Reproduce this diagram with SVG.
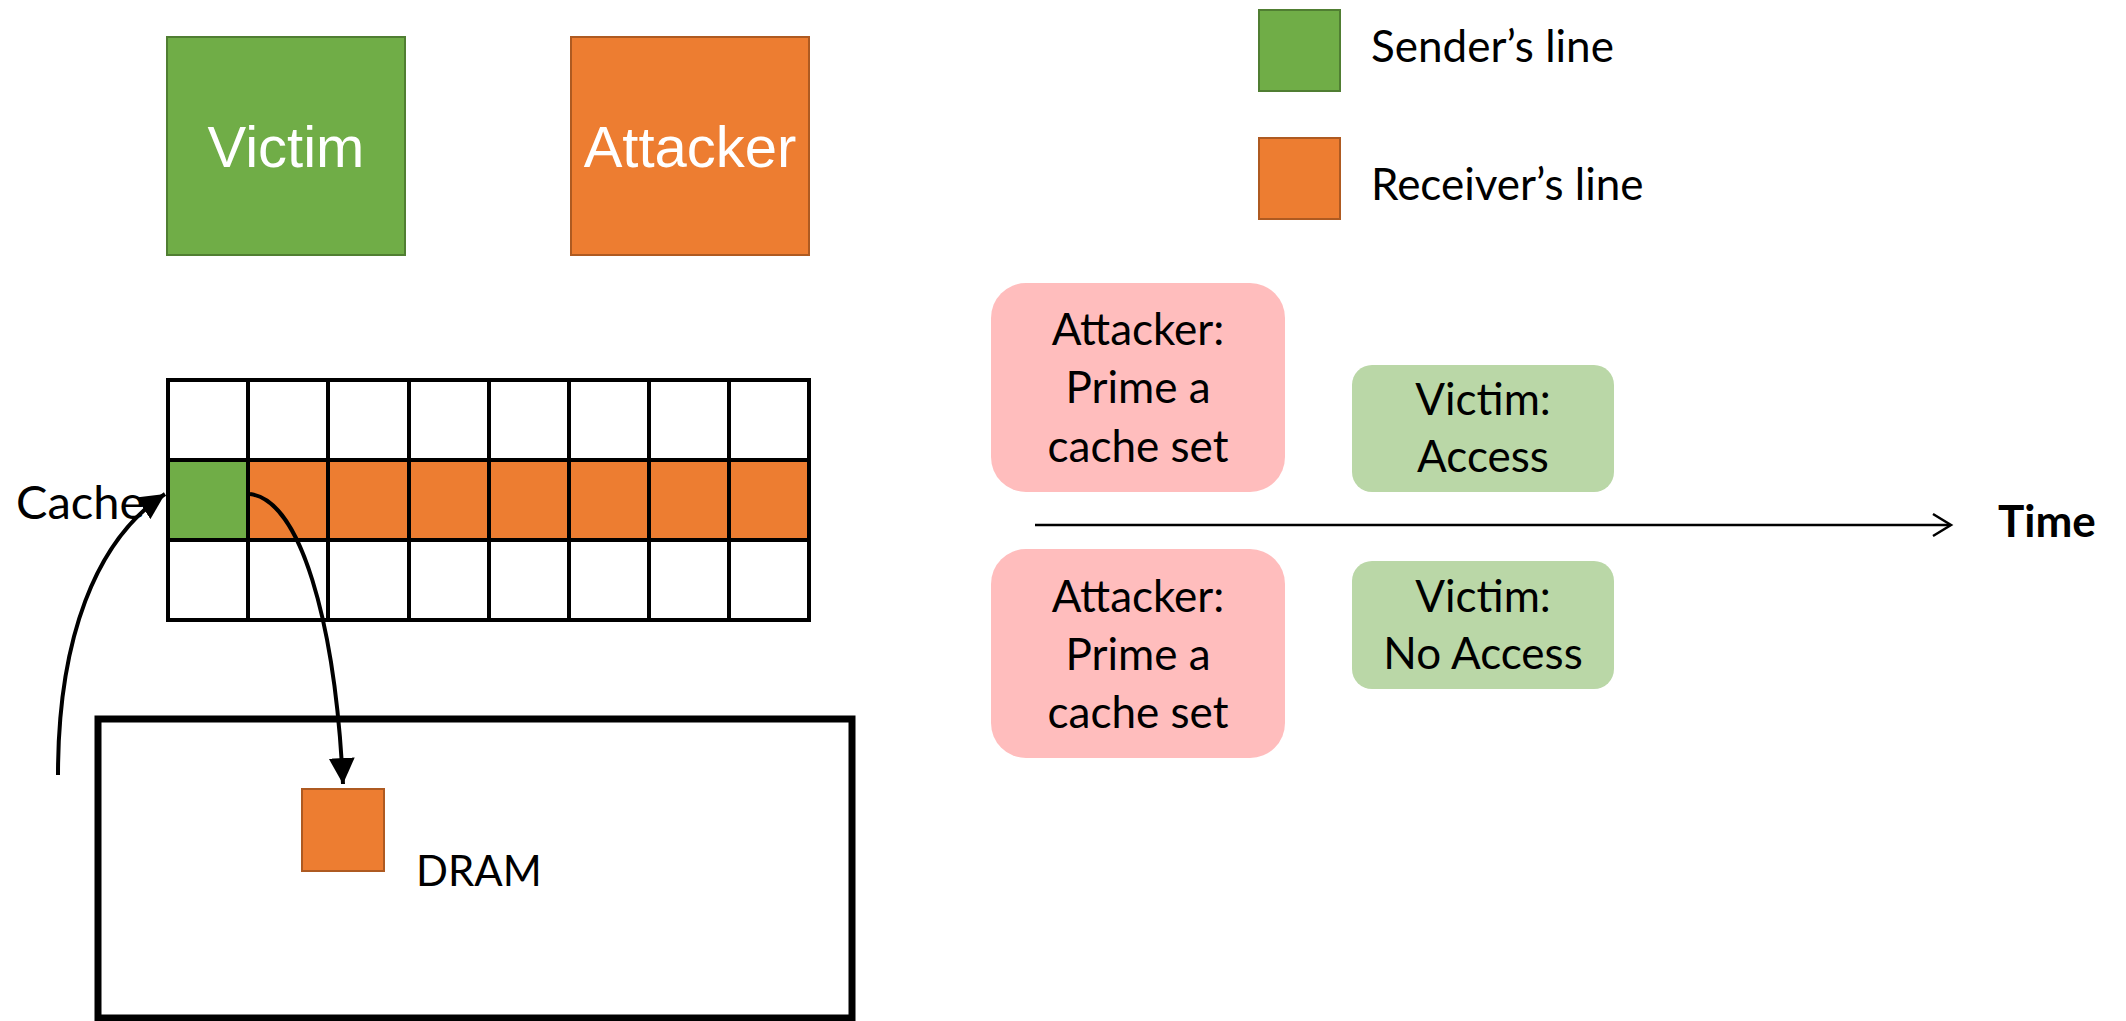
<svg xmlns="http://www.w3.org/2000/svg" width="2126" height="1021" viewBox="0 0 2126 1021">
<defs>
<style>
.lbl{font-family:Lato,"Liberation Sans",sans-serif;fill:#000}
.big{font-family:"Liberation Sans",Arial,sans-serif;font-size:58px;fill:#fff;text-anchor:middle}
.grn{fill:#70AD47;stroke:#507E32;stroke-width:2}
.org{fill:#ED7D31;stroke:#AE5A21;stroke-width:2}
.pink{fill:#FFBDBD}
.lgrn{fill:#BAD7A7}
.box{font-family:Lato,"Liberation Sans",sans-serif;font-size:44px;text-anchor:middle;fill:#000}
.grid{stroke:#000;stroke-width:4;fill:none;stroke-linecap:square}
.conn{stroke:#000;stroke-width:4;fill:none}
</style>
<marker id="ah" viewBox="0 0 10 10" refX="10" refY="5" markerWidth="6.5" markerHeight="6.5" markerUnits="strokeWidth" orient="auto">
<path d="M0,0 L10,5 L0,10 z" fill="#000"/>
</marker>
</defs>
<rect width="2126" height="1021" fill="#fff"/>

<g id="victim">
<rect class="grn" x="167" y="37" width="238" height="218"/>
<text class="big" x="286" y="167">Victim</text>
</g>
<g id="attacker">
<rect class="org" x="571" y="37" width="238" height="218"/>
<text class="big" x="690" y="167">Attacker</text>
</g>

<g id="legend-sender">
<rect class="grn" x="1259" y="10" width="81" height="81"/>
<text class="lbl" x="1371" y="62" font-size="44">Sender’s line</text>
</g>
<g id="legend-receiver">
<rect class="org" x="1259" y="138" width="81" height="81"/>
<text class="lbl" x="1371" y="200" font-size="44">Receiver’s line</text>
</g>

<g id="cache">
<rect x="168" y="460" width="80" height="80" fill="#70AD47"/>
<rect x="248" y="460" width="561" height="80" fill="#ED7D31"/>
<path class="grid" d="M168,380 H809 M168,460 H809 M168,540 H809 M168,620 H809 M168,380 V620 M248,380 V620 M328,380 V620 M409,380 V620 M489,380 V620 M569,380 V620 M649,380 V620 M729,380 V620 M809,380 V620"/>
<text class="lbl" x="16" y="519" font-size="47">Cache</text>
</g>

<g id="dram">
<rect x="98" y="719" width="754" height="299" fill="none" stroke="#000" stroke-width="7"/>
<rect class="org" x="302" y="789" width="82" height="82"/>
<text class="lbl" x="416" y="886" font-size="42">DRAM</text>
</g>

<g id="step-a1">
<rect class="pink" x="991" y="283" width="294" height="209" rx="35"/>
<text class="box" x="1138" y="345">Attacker:</text>
<text class="box" x="1138" y="403">Prime a</text>
<text class="box" x="1138" y="462">cache set</text>
</g>
<g id="step-v1">
<rect class="lgrn" x="1352" y="365" width="262" height="127" rx="20"/>
<text class="box" x="1483" y="415">Victim:</text>
<text class="box" x="1483" y="472">Access</text>
</g>
<g id="step-a2">
<rect class="pink" x="991" y="549" width="294" height="209" rx="35"/>
<text class="box" x="1138" y="612">Attacker:</text>
<text class="box" x="1138" y="670">Prime a</text>
<text class="box" x="1138" y="728">cache set</text>
</g>
<g id="step-v2">
<rect class="lgrn" x="1352" y="561" width="262" height="128" rx="20"/>
<text class="box" x="1483" y="612">Victim:</text>
<text class="box" x="1483" y="669">No Access</text>
</g>
<g id="time">
<text class="lbl" x="1998" y="537" font-size="44" font-weight="bold">Time</text>
</g>

<g id="connectors">
<path class="conn" d="M58,775 C58,640 95,540 165,494" marker-end="url(#ah)"/>
<path class="conn" d="M250,494 C300,500 335,620 343,784" marker-end="url(#ah)"/>
<path d="M1035,525 H1950" stroke="#000" stroke-width="2.5" fill="none"/>
<path d="M1933,514 L1951,525 L1933,536" stroke="#000" stroke-width="2.5" fill="none"/>
</g>
</svg>
